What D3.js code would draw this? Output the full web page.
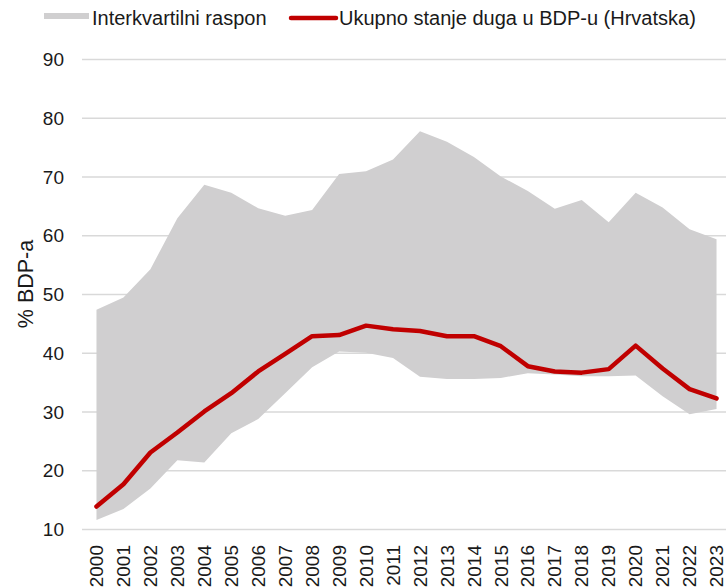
<!DOCTYPE html>
<html>
<head>
<meta charset="utf-8">
<script src="https://cdn.jsdelivr.net/npm/d3@7"></script>
<style>
  html, body { margin: 0; padding: 0; background: #fff; }
  svg { display: block; font-family: "Liberation Sans", Arial, sans-serif; }
</style>
</head>
<body>
<div id="chart"></div>
<script>
const years = ["2000","2001","2002","2003","2004","2005","2006","2007","2008","2009","2010","2011",
               "2012","2013","2014","2015","2016","2017","2018","2019","2020","2021","2022","2023"];

// interquartile range (lower / upper quartile)
const lowerQ = [11.6, 13.5, 17.0, 21.8, 21.4, 26.4, 28.8, 33.2, 37.6, 40.3, 40.1, 39.2,
                36.0, 35.6, 35.6, 35.8, 36.6, 36.4, 36.1, 36.1, 36.2, 32.7, 29.6, 30.5];
const upperQ = [47.4, 49.5, 54.3, 63.0, 68.7, 67.3, 64.7, 63.4, 64.4, 70.5, 71.0, 73.0,
                77.8, 76.0, 73.4, 70.1, 67.6, 64.6, 66.1, 62.3, 67.3, 64.8, 61.1, 59.4];

// Croatia, total debt % of GDP
const croatia = [13.9, 17.7, 23.1, 26.5, 30.1, 33.2, 36.9, 39.9, 42.9, 43.1, 44.7, 44.1,
                 43.8, 42.9, 42.9, 41.2, 37.8, 36.9, 36.7, 37.3, 41.3, 37.4, 33.9, 32.3];

const yTicks = [10, 20, 30, 40, 50, 60, 70, 80, 90];

const W = 726, H = 588;
const tickSize = "19px";
const legendSize = "20px";
const textColor = "#1a1a1a";

const svg = d3.select("#chart").append("svg")
    .attr("width", W)
    .attr("height", H);

const x = d3.scaleBand()
    .domain(years)
    .range([83, 730]);

const y = d3.scaleLinear()
    .domain([10, 90])
    .range([529.5, 59.5]);

const cx = d => x(d) + x.bandwidth() / 2;

//Grid
svg.append("g")
    .selectAll("line")
    .data(yTicks)
    .enter()
    .append("line")
    .attr("x1", 82)
    .attr("x2", W)
    .attr("y1", d => y(d))
    .attr("y2", d => y(d))
    .attr("stroke", "#d9d9d9")
    .attr("stroke-width", 1.3);

//Y tick labels
svg.append("g")
    .selectAll("text")
    .data(yTicks)
    .enter()
    .append("text")
    .attr("x", 64)
    .attr("y", d => y(d))
    .attr("dy", "0.35em")
    .attr("text-anchor", "end")
    .style("font-size", tickSize)
    .style("fill", textColor)
    .text(d => d);

//Y title
svg.append("text")
    .attr("transform", "translate(33, 284) rotate(-90)")
    .attr("text-anchor", "middle")
    .style("font-size", "21.5px")
    .style("fill", textColor)
    .text("% BDP-a");

//X labels
svg.append("g")
    .selectAll("text")
    .data(years)
    .enter()
    .append("text")
    .attr("transform", d => `translate(${cx(d)}, 545) rotate(-90)`)
    .attr("dy", "0.35em")
    .attr("text-anchor", "end")
    .style("font-size", tickSize)
    .style("fill", textColor)
    .text(d => d);

//Band
const area = d3.area()
    .x((d, i) => cx(years[i]))
    .y0((d, i) => y(lowerQ[i]))
    .y1((d, i) => y(upperQ[i]));

svg.append("path")
    .datum(years)
    .attr("d", area)
    .attr("fill", "#d0cfd0");

//Line
const line = d3.line()
    .x((d, i) => cx(years[i]))
    .y(d => y(d));

svg.append("path")
    .datum(croatia)
    .attr("d", line)
    .attr("fill", "none")
    .attr("stroke", "#c00000")
    .attr("stroke-width", 4.5)
    .attr("stroke-linejoin", "round")
    .attr("stroke-linecap", "round");

//Legend
const legend = svg.append("g");

legend.append("rect")
    .attr("x", 44)
    .attr("y", 13)
    .attr("width", 45)
    .attr("height", 6)
    .attr("fill", "#d0cfd0");

legend.append("text")
    .attr("x", 92)
    .attr("y", 18)
    .attr("dy", "0.35em")
    .style("font-size", legendSize)
    .style("fill", textColor)
    .text("Interkvartilni raspon");

legend.append("line")
    .attr("x1", 291)
    .attr("x2", 336)
    .attr("y1", 18)
    .attr("y2", 18)
    .attr("stroke", "#c00000")
    .attr("stroke-width", 4.5)
    .attr("stroke-linecap", "round");

legend.append("text")
    .attr("x", 339)
    .attr("y", 18)
    .attr("dy", "0.35em")
    .style("font-size", legendSize)
    .style("fill", textColor)
    .text("Ukupno stanje duga u BDP-u (Hrvatska)");
</script>
</body>
</html>
